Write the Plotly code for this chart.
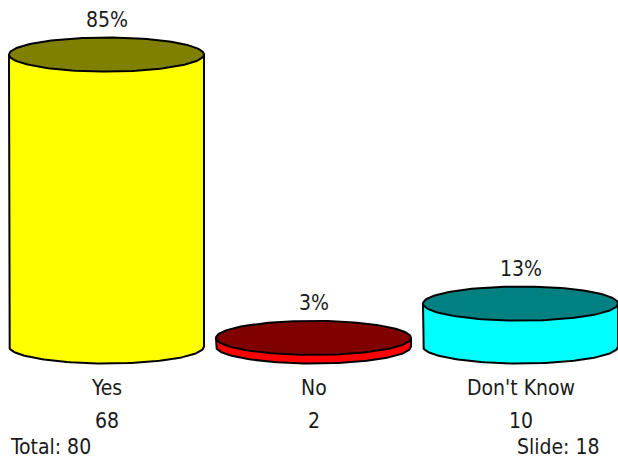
import numpy as np
import plotly.graph_objects as go

# ---- data ----
categories = ["Yes", "No", "Don't Know"]
counts = [68, 2, 10]
body_colors = ["#FFFF00", "#FF0000", "#00FFFF"]
top_colors = ["#808000", "#800000", "#008080"]
slide_no = 18

total = sum(counts)
pcts = [c / total * 100 for c in counts]
pct_labels = [f"{int(p + 0.5)}%" for p in pcts]

# ---- geometry / style ----
W, H = 618, 460
x0_px, step_px = 106.5, 207.0      # pixel centre of first category, spacing
y0_px, scale_px = 346.5, 3.435     # pixel of value 0, pixels per percent
rx_px, ry_px = 97.5, 17.0

x_range = [-x0_px / step_px, (W - x0_px) / step_px]
y_range = [-(H - y0_px) / scale_px, y0_px / scale_px]
rx = rx_px / step_px
ry = ry_px / scale_px
FONT = "DejaVu Sans Condensed"
FS = 21
TXT = "#1a1a1a"

fig = go.Figure()
t_low = np.linspace(np.pi, 2 * np.pi, 80)
t_full = np.linspace(0, 2 * np.pi, 160)

for i, (p, bc, tc) in enumerate(zip(pcts, body_colors, top_colors)):
    cx = i
    bx = [cx - rx, cx - rx] + list(cx + rx * np.cos(t_low)) + [cx + rx, cx - rx]
    by = [p, 0] + list(ry * np.sin(t_low)) + [p, p]
    fig.add_trace(go.Scatter(x=bx, y=by, mode="lines", fill="toself",
                             fillcolor=bc, line=dict(color="black", width=2),
                             hoverinfo="skip", showlegend=False))
    fig.add_trace(go.Scatter(x=list(cx + rx * np.cos(t_full)),
                             y=list(p + ry * np.sin(t_full)),
                             mode="lines", fill="toself", fillcolor=tc,
                             line=dict(color="black", width=2),
                             hoverinfo="skip", showlegend=False))

font = dict(family=FONT, size=FS, color=TXT)
annotations = []
for i, (p, lab) in enumerate(zip(pcts, pct_labels)):
    annotations.append(dict(x=i, y=p + ry, xref="x", yref="y", text=lab,
                            showarrow=False, yanchor="middle", yshift=18, font=font))
for i, (cat, c) in enumerate(zip(categories, counts)):
    annotations.append(dict(x=i, y=1 - 388 / H, xref="x", yref="paper", text=cat,
                            showarrow=False, yanchor="middle", font=font))
    annotations.append(dict(x=i, y=1 - 420.5 / H, xref="x", yref="paper", text=str(c),
                            showarrow=False, yanchor="middle", font=font))
annotations.append(dict(x=8 / W, y=1 - 446.5 / H, xref="paper", yref="paper",
                        text=f"Total: {total}", showarrow=False, xanchor="left",
                        yanchor="middle", font=font))
annotations.append(dict(x=602 / W, y=1 - 446.5 / H, xref="paper", yref="paper",
                        text=f"Slide: {slide_no}", showarrow=False, xanchor="right",
                        yanchor="middle", font=font))

fig.update_layout(
    width=W, height=H,
    margin=dict(l=0, r=0, t=0, b=0),
    paper_bgcolor="white", plot_bgcolor="white",
    xaxis=dict(range=x_range, visible=False, fixedrange=True),
    yaxis=dict(range=y_range, visible=False, fixedrange=True),
    annotations=annotations,
)
fig.write_html("out.html", config={"displayModeBar": False},
               post_script="document.body.style.margin='0';document.body.style.overflow='hidden';")
